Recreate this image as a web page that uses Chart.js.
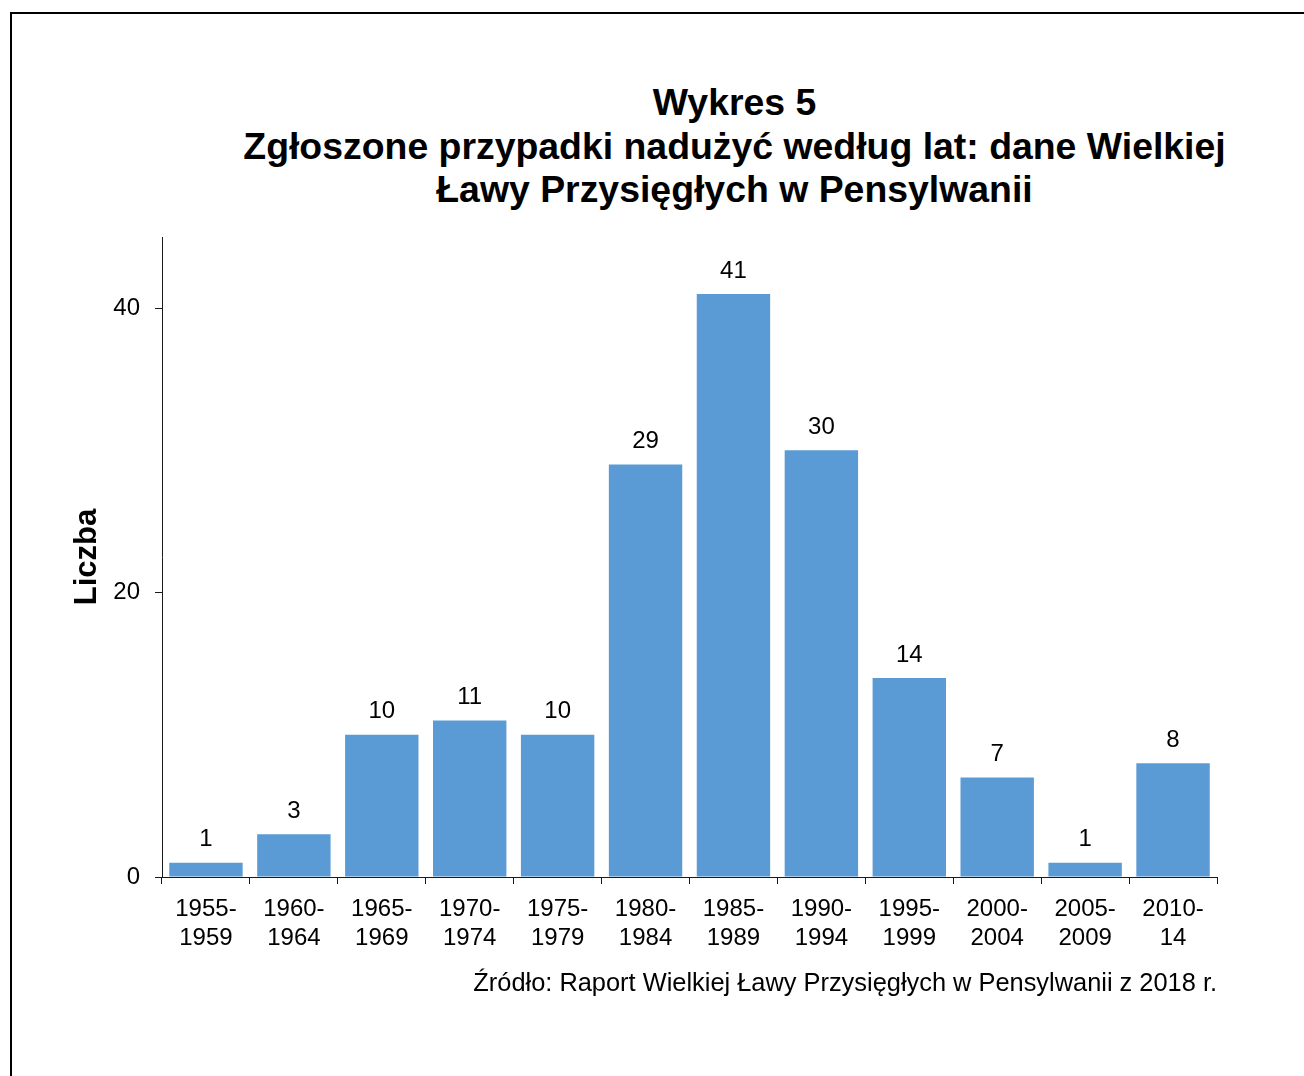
<!DOCTYPE html>
<html lang="pl">
<head>
<meta charset="utf-8">
<title>Wykres 5</title>
<script src="https://cdn.jsdelivr.net/npm/chart.js@4.4.1/dist/chart.umd.min.js"></script>
<style>
  html, body { margin: 0; padding: 0; background: #fff; overflow: hidden; }
  body { width: 1304px; height: 1076px; position: relative; font-family: "Liberation Sans", Arial, sans-serif; }
  .frame { position: absolute; left: 10px; top: 12px; width: 2000px; height: 2000px; border: 2px solid #000; }
  .title {
    position: absolute; left: 734.5px; top: 81px; transform: translateX(-50%);
    white-space: nowrap; text-align: center; font-weight: bold; font-size: 37.4px;
    line-height: 43.5px; color: #000;
  }
  #chartBox { position: absolute; left: 0; top: 0; width: 1304px; height: 1076px; }
</style>
</head>
<body>
<div class="frame"></div>
<div class="title">Wykres 5<br>Zgłoszone przypadki nadużyć według lat: dane Wielkiej<br>Ławy Przysięgłych w Pensylwanii</div>
<div id="chartBox"><canvas id="chart"></canvas></div>
<script>
// categories (two-line tick labels)
const periods = [
  ["1955-", "1959"], ["1960-", "1964"], ["1965-", "1969"], ["1970-", "1974"],
  ["1975-", "1979"], ["1980-", "1984"], ["1985-", "1989"], ["1990-", "1994"],
  ["1995-", "1999"], ["2000-", "2004"], ["2005-", "2009"], ["2010-", "14"]
];
const cases = [1, 3, 10, 11, 10, 29, 41, 30, 14, 7, 1, 8];
const yTicks = [0, 20, 40];
const yMax = 45;

const FONT = '"Liberation Sans", Arial, sans-serif';
const AXIS = "#1a1a1a";

// value labels above the bars
const barValues = {
  id: "barValues",
  afterDatasetsDraw(chart) {
    const { ctx } = chart;
    const meta = chart.getDatasetMeta(0);
    ctx.save();
    ctx.font = `24px ${FONT}`;
    ctx.fillStyle = "#000";
    ctx.textAlign = "center";
    ctx.textBaseline = "middle";
    meta.data.forEach((bar, i) => {
      ctx.fillText(String(cases[i]), bar.x, bar.y - 23);
    });
    ctx.restore();
  }
};

new Chart(document.getElementById("chart"), {
  type: "bar",
  data: {
    labels: periods,
    datasets: [{
      label: "Liczba",
      data: cases,
      backgroundColor: "#5b9bd5",
      borderWidth: 0,
      barPercentage: 0.835,
      categoryPercentage: 1.0
    }]
  },
  options: {
    responsive: true,
    maintainAspectRatio: false,
    animation: false,
    layout: { padding: { top: 237, left: 0, right: 87, bottom: 69 } },
    plugins: {
      legend: { display: false },
      tooltip: { enabled: false }
    },
    scales: {
      x: {
        offset: true,
        border: { display: true, color: AXIS, width: 1 },
        grid: { display: true, offset: true, drawOnChartArea: false, drawTicks: true, tickLength: 7, color: AXIS },
        ticks: { color: "#000", padding: 11, maxRotation: 0, autoSkip: false, font: { family: FONT, size: 24 } },
        title: {
          display: true,
          align: "end",
          text: "Źródło: Raport Wielkiej Ławy Przysięgłych w Pensylwanii z 2018 r.",
          color: "#000",
          font: { family: FONT, size: 25.4 },
          padding: { top: 0, bottom: 8 }
        },
        afterFit(scale) { scale.height = 130; }
      },
      y: {
        min: 0,
        max: yMax,
        border: { display: true, color: AXIS, width: 1 },
        grid: { display: true, drawOnChartArea: false, drawTicks: true, tickLength: 7, color: AXIS },
        ticks: { color: "#000", padding: 15, font: { family: FONT, size: 24 } },
        afterBuildTicks(scale) { scale.ticks = yTicks.map(v => ({ value: v })); },
        title: {
          display: true,
          text: "Liczba",
          color: "#000",
          font: { family: FONT, size: 31, weight: "bold" },
          padding: { top: 69, bottom: 0 }
        },
        afterFit(scale) { scale.width = 162; }
      }
    }
  },
  plugins: [barValues]
});
</script>
</body>
</html>
